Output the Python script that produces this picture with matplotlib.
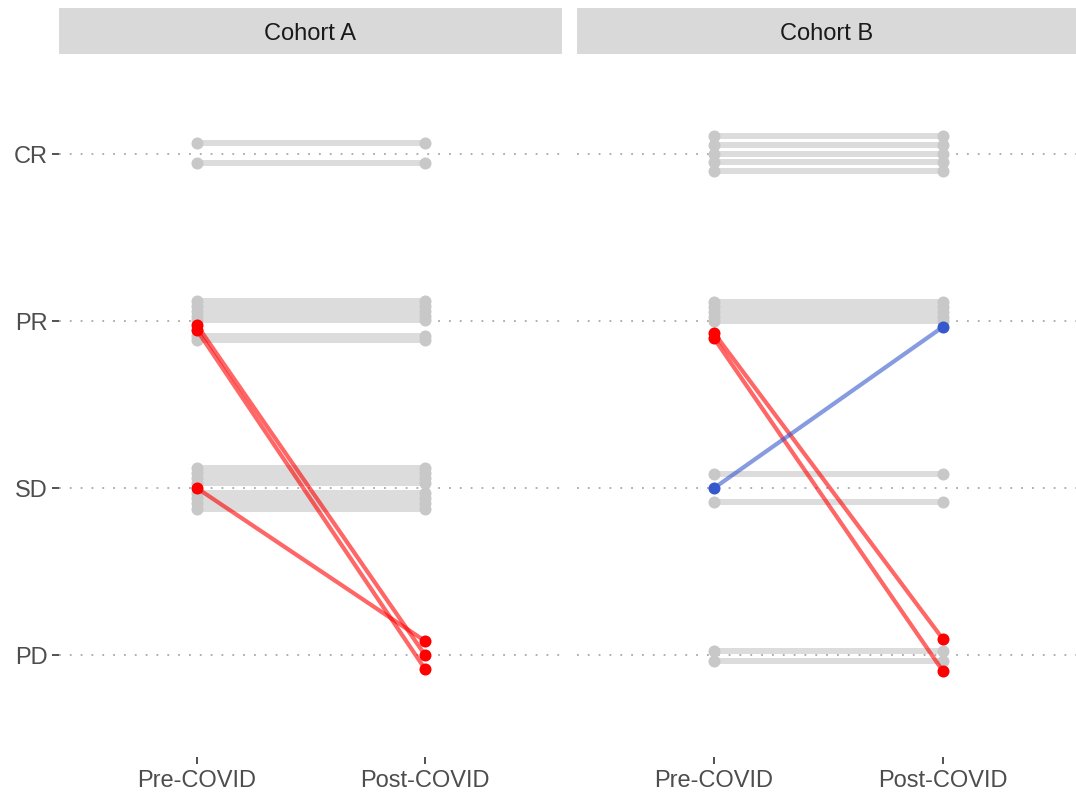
"""Response shift pre/post COVID, slope chart faceted by cohort."""

import matplotlib

matplotlib.use("Agg")
import matplotlib.pyplot as plt

plt.rcParams["font.family"] = ["Liberation Sans", "DejaVu Sans"]

LEVELS = ["PD", "SD", "PR", "CR"]
TIMEPOINTS = ["Pre-COVID", "Post-COVID"]
COHORTS = ["Cohort A", "Cohort B"]

# jittered response values (1=PD .. 4=CR); unchanged patients keep same value
A_STABLE = [4.066, 3.946,
            3.120, 3.090, 3.060, 3.030, 3.006, 2.910, 2.886,
            2.120, 2.090, 2.060, 2.030, 1.970, 1.940, 1.910, 1.875]
A_WORSE_PRE = [2.976, 2.946, 2.000]
A_WORSE_POST = [1.000, 0.916, 1.084]
A_BETTER_PRE = []
A_BETTER_POST = []

B_STABLE = [4.110, 4.058, 4.004, 3.954, 3.900,
            3.114, 3.084, 3.054, 3.024, 3.002,
            2.084, 1.920,
            1.026, 0.966]
B_WORSE_PRE = [2.930, 2.898]
B_WORSE_POST = [1.096, 0.904]
B_BETTER_PRE = [2.000]
B_BETTER_POST = [2.966]

DATA = {
    "Cohort A": (A_STABLE, A_WORSE_PRE, A_WORSE_POST, A_BETTER_PRE, A_BETTER_POST),
    "Cohort B": (B_STABLE, B_WORSE_PRE, B_WORSE_POST, B_BETTER_PRE, B_BETTER_POST),
}

GRAY_LINE = "#DCDCDC"
GRAY_PT = "#C8C8C8"
RED = "#FF0000"
BLUE = "#3558CC"

W, H = 1076, 796
fig = plt.figure(figsize=(W / 100, H / 100), dpi=100)

# panel boxes in pixels: (left, right), plus x-limits
panels = [((59, 562), (0.395, 2.6)), ((577, 1076), (0.402, 2.581))]
top_px, bot_px = 54, 757
strip_top = 8

for i, (cohort, ((lx, rx), xlim)) in enumerate(zip(COHORTS, panels)):
    stable, wpre, wpost, bpre, bpost = DATA[cohort]
    ax = fig.add_axes([lx / W, 1 - bot_px / H, (rx - lx) / W, (bot_px - top_px) / H])
    for lvl in range(1, 5):
        ax.axhline(lvl, color="#A8A8A8", lw=1.3, ls=(0, (1, 5)), zorder=0)
    for v in stable:
        ax.plot([1, 2], [v, v], color=GRAY_LINE, lw=4.3, solid_capstyle="butt", zorder=1)
        ax.scatter([1, 2], [v, v], s=75, color=GRAY_PT, lw=0, zorder=2)
    for a, b in zip(wpre, wpost):
        ax.plot([1, 2], [a, b], color=RED, alpha=0.6, lw=3, zorder=3)
        ax.scatter([1, 2], [a, b], s=75, color=RED, lw=0, zorder=4)
    for a, b in zip(bpre, bpost):
        ax.plot([1, 2], [a, b], color=BLUE, alpha=0.6, lw=3, zorder=3)
        ax.scatter([1, 2], [a, b], s=75, color=BLUE, lw=0, zorder=4)

    ax.set_xlim(*xlim)
    ax.set_ylim(0.39, 4.6)
    ax.set_xticks([1, 2])
    ax.set_xticklabels(TIMEPOINTS)
    ax.set_yticks([1, 2, 3, 4])
    ax.set_yticklabels(LEVELS if i == 0 else [])
    ax.tick_params(axis="both", length=5, width=1.2, color="#333333",
                   labelsize=17, labelcolor="#4D4D4D", pad=3)
    ax.tick_params(axis="x", pad=4.5)
    if i == 1:
        ax.tick_params(axis="y", length=0)
    for s in ax.spines.values():
        s.set_visible(False)

    sx = fig.add_axes([lx / W, 1 - top_px / H, (rx - lx) / W, (top_px - strip_top) / H])
    sx.set_facecolor("#D9D9D9")
    sx.set_xticks([])
    sx.set_yticks([])
    for s in sx.spines.values():
        s.set_visible(False)
    sx.text(0.5, 0.5, cohort, ha="center", va="center_baseline", fontsize=17,
            color="#1A1A1A", transform=sx.transAxes)

fig.savefig("out.png", dpi=100)
